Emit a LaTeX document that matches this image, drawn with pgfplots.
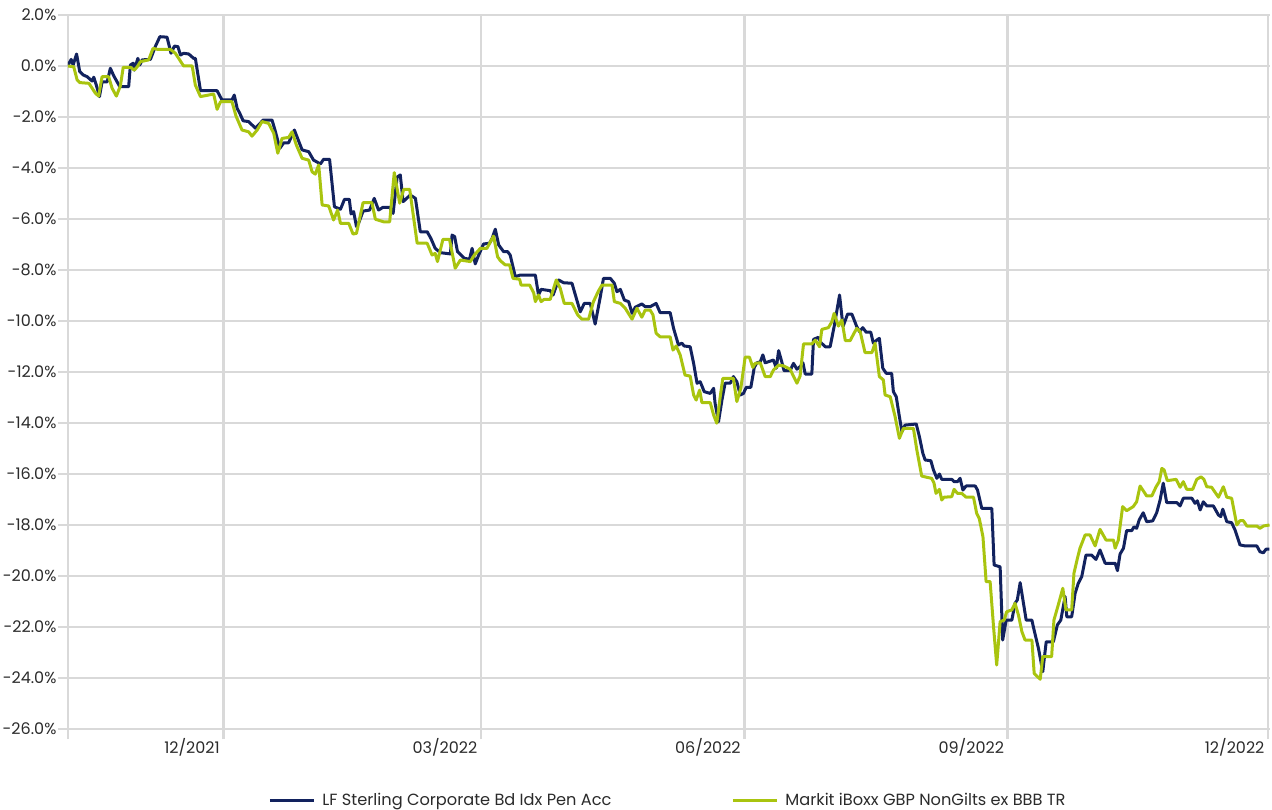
\documentclass[border=0pt]{standalone}
\usepackage{pgfplots}
\pgfplotsset{compat=1.18}
\usepackage{pgfplotstable}
\usepackage{fontspec}
\setmainfont{Poppins}

\definecolor{lfnavy}{HTML}{12225E}
\definecolor{ibgreen}{HTML}{A9C40F}
\definecolor{gridgray}{HTML}{D9D9D9}
\definecolor{labelgray}{HTML}{2B2B2B}

% x = days since 1 Dec 2021, y = cumulative return in %
\pgfplotstableread{
x y
-54.4 0.00
-53.2 0.26
-52.5 0.04
-51.3 0.47
-50.2 -0.22
-49.0 -0.35
-47.6 -0.42
-45.9 -0.59
-45.3 -0.44
-44.4 -0.75
-43.3 -1.20
-42.4 -0.62
-40.6 -0.62
-39.5 -0.09
-38.3 -0.39
-36.2 -0.81
-33.1 -0.81
-32.5 0.04
-31.5 0.11
-31.1 -0.16
-29.9 0.30
-29.2 0.04
-28.4 0.24
-25.5 0.26
-23.8 0.76
-22.2 1.15
-19.7 1.13
-18.3 0.50
-17.1 0.78
-15.9 0.76
-15.0 0.43
-13.9 0.50
-12.1 0.47
-10.4 0.30
-9.8 0.30
-8.0 -0.97
-2.2 -0.97
-0.5 -1.33
3.0 -1.33
3.8 -1.14
4.8 -1.66
5.7 -1.85
6.9 -2.15
8.8 -2.18
11.2 -2.44
12.3 -2.31
13.9 -2.12
17.0 -2.12
18.2 -2.58
19.7 -3.23
21.1 -3.01
22.8 -3.01
24.8 -2.51
27.5 -3.29
29.8 -3.36
31.5 -3.69
33.9 -3.84
35.0 -3.66
37.1 -3.66
38.8 -5.52
40.9 -5.62
42.3 -5.23
44.0 -5.23
44.6 -5.80
45.5 -5.71
46.5 -6.30
47.3 -6.15
48.8 -5.69
51.1 -5.65
52.7 -5.19
54.2 -5.65
55.8 -5.54
58.1 -5.54
59.3 -5.78
60.7 -4.36
61.8 -4.27
62.8 -5.32
65.3 -5.06
67.1 -5.19
68.8 -6.50
71.2 -6.50
72.5 -6.76
74.0 -7.15
75.8 -7.32
79.3 -7.37
79.9 -6.63
80.8 -6.69
81.8 -7.28
84.2 -7.54
86.0 -7.58
86.9 -7.15
88.0 -7.76
89.2 -7.41
90.9 -6.98
93.0 -6.95
93.9 -6.76
95.0 -6.40
96.2 -7.02
97.9 -7.28
99.3 -7.28
100.2 -7.41
102.0 -8.26
103.7 -8.20
109.0 -8.20
110.1 -8.98
111.0 -8.76
114.2 -8.81
115.2 -8.98
117.1 -8.39
118.9 -8.50
121.8 -8.52
123.5 -9.18
124.7 -9.64
126.1 -9.31
128.2 -9.31
129.9 -10.12
131.7 -9.05
132.8 -8.33
135.2 -8.33
136.6 -8.52
137.5 -8.85
138.7 -8.76
140.1 -9.18
141.6 -9.24
142.8 -9.70
143.9 -9.46
146.2 -9.33
147.4 -9.44
149.1 -9.44
151.2 -9.31
152.6 -9.67
156.1 -9.67
157.3 -10.29
159.0 -10.94
160.2 -10.87
161.0 -10.98
163.1 -11.01
164.3 -11.66
165.5 -12.44
166.6 -12.38
168.0 -12.77
170.1 -12.84
171.3 -12.64
171.8 -13.23
173.0 -13.95
174.2 -13.10
175.3 -12.44
177.1 -12.44
178.2 -12.18
179.4 -12.38
180.6 -12.90
181.7 -12.84
182.7 -12.60
184.3 -12.60
185.5 -11.82
186.4 -11.64
187.6 -11.60
188.5 -11.33
189.3 -11.64
192.2 -11.53
193.2 -11.85
194.0 -11.16
195.1 -11.60
195.9 -11.95
198.0 -11.95
199.2 -11.66
200.4 -11.89
201.5 -11.79
202.5 -11.64
203.3 -12.08
205.6 -12.08
206.2 -10.72
207.9 -10.64
208.8 -10.85
210.3 -11.01
212.0 -11.01
213.4 -10.22
215.3 -8.98
216.5 -10.22
218.1 -9.73
219.6 -9.73
221.3 -10.22
222.3 -10.42
223.4 -10.26
224.6 -10.44
226.2 -10.44
227.1 -10.87
228.3 -10.75
229.2 -10.68
230.4 -11.85
231.6 -12.05
233.5 -12.05
234.1 -12.77
235.1 -12.97
236.2 -13.75
237.1 -14.34
238.2 -14.08
242.1 -14.04
243.2 -14.54
244.4 -15.19
245.2 -15.45
247.2 -15.48
248.1 -15.84
249.3 -16.17
250.2 -16.00
251.0 -16.21
254.5 -16.21
255.3 -16.30
256.5 -16.30
257.4 -16.17
258.4 -16.63
259.5 -16.47
262.7 -16.47
263.5 -16.63
265.0 -17.35
268.5 -17.35
269.3 -19.57
271.4 -19.64
272.3 -22.51
273.5 -21.73
275.5 -21.73
276.6 -21.07
277.4 -20.94
278.4 -20.26
280.5 -21.73
282.5 -21.73
283.0 -21.99
284.8 -22.84
286.3 -23.75
287.5 -22.58
290.0 -22.58
291.4 -21.92
292.6 -21.73
294.1 -20.81
294.7 -21.60
296.4 -21.60
297.6 -20.68
298.7 -20.29
299.9 -20.03
301.4 -19.18
303.4 -19.18
304.9 -19.35
306.3 -18.98
308.1 -19.50
311.6 -19.50
312.4 -19.79
313.3 -19.14
314.5 -18.91
315.6 -18.22
317.4 -18.22
318.2 -18.07
319.1 -18.13
320.0 -17.80
321.4 -17.52
322.6 -17.87
324.7 -17.84
326.1 -17.52
327.3 -17.02
328.4 -16.36
329.6 -17.12
333.1 -17.12
334.3 -17.25
335.4 -16.95
338.4 -16.95
339.5 -17.15
340.3 -17.05
341.3 -17.41
342.4 -17.09
343.6 -17.25
345.9 -17.25
347.7 -17.61
348.5 -17.67
349.2 -17.38
350.6 -17.87
352.3 -17.91
353.5 -18.20
355.2 -18.78
357.0 -18.82
361.1 -18.82
362.2 -19.05
363.4 -19.09
364.3 -18.95
365.5 -18.95
}\lftable

\pgfplotstableread{
x y
-54.4 0.00
-52.3 -0.03
-51.1 -0.55
-50.2 -0.65
-47.0 -0.68
-44.7 -1.07
-43.6 -1.18
-42.4 -0.42
-40.1 -0.42
-38.9 -0.87
-37.4 -1.18
-36.0 -0.78
-35.0 -0.05
-32.5 -0.05
-31.1 -0.16
-30.1 -0.03
-29.0 0.17
-26.1 0.24
-24.6 0.69
-22.9 0.65
-18.5 0.65
-16.8 0.50
-13.9 0.00
-10.9 0.00
-9.8 -0.75
-8.0 -1.20
-3.4 -1.10
-2.2 -1.70
-1.0 -1.40
3.0 -1.40
4.4 -1.96
6.5 -2.51
8.8 -2.58
10.0 -2.75
11.8 -2.51
13.5 -2.18
15.8 -2.25
17.6 -2.64
19.0 -3.42
20.5 -2.84
22.8 -2.80
24.0 -2.58
25.5 -3.10
27.5 -3.62
29.8 -3.69
31.0 -4.15
32.1 -4.24
33.3 -3.88
34.5 -5.45
36.8 -5.49
38.5 -6.04
39.9 -5.65
40.9 -6.17
43.8 -6.17
45.3 -6.59
46.5 -6.56
48.8 -5.36
51.9 -5.36
53.1 -6.01
56.0 -6.11
58.1 -6.11
59.7 -4.18
61.6 -5.38
63.0 -4.84
65.1 -4.84
67.7 -6.95
71.2 -6.95
72.9 -7.41
74.0 -7.35
74.8 -7.67
76.7 -6.80
79.0 -6.80
81.0 -7.93
82.8 -7.61
86.3 -7.67
87.7 -7.41
89.8 -7.15
92.1 -7.15
93.3 -6.89
94.4 -6.67
95.8 -7.48
96.8 -7.64
98.5 -7.80
100.0 -7.80
101.2 -8.33
103.5 -8.36
104.0 -8.59
107.0 -8.59
108.4 -8.89
109.0 -9.24
110.1 -8.98
111.0 -9.24
112.1 -9.15
114.2 -9.15
116.3 -8.39
117.7 -8.72
119.1 -9.31
121.8 -9.31
123.8 -9.76
125.3 -9.93
127.6 -9.93
129.3 -9.24
131.1 -8.81
132.3 -8.59
135.8 -8.59
136.6 -9.24
138.7 -9.31
140.4 -9.50
142.8 -9.93
144.5 -9.50
146.2 -9.85
147.4 -9.57
149.1 -9.57
150.1 -9.76
151.2 -10.48
152.6 -10.62
156.1 -10.62
157.1 -11.14
158.2 -10.98
159.6 -11.33
161.3 -12.12
163.1 -12.16
164.3 -12.90
165.2 -13.10
166.4 -12.71
167.2 -13.20
170.1 -13.20
171.3 -13.69
172.4 -14.01
173.6 -12.97
174.5 -12.25
178.2 -12.25
179.4 -13.16
180.8 -12.64
182.3 -11.42
183.8 -11.42
185.0 -11.82
185.8 -11.66
187.6 -11.64
189.3 -12.18
191.1 -12.18
192.2 -11.92
194.0 -11.73
195.7 -11.76
198.0 -11.89
200.4 -12.44
201.5 -12.16
202.7 -10.90
205.6 -10.90
206.8 -10.75
208.3 -11.01
209.1 -10.33
211.4 -10.26
212.6 -10.03
213.4 -9.70
214.9 -10.20
216.1 -9.96
217.3 -10.77
219.0 -10.77
220.2 -10.51
221.3 -10.29
222.5 -10.42
224.2 -11.24
226.6 -11.24
227.7 -10.87
229.2 -12.18
230.6 -12.31
231.2 -12.90
233.0 -12.97
234.7 -13.75
236.2 -14.60
237.6 -14.21
241.1 -14.21
242.3 -15.06
244.0 -16.08
245.8 -16.13
247.5 -16.17
248.3 -16.36
249.0 -16.76
250.2 -16.60
251.0 -17.02
251.8 -16.91
254.5 -16.89
255.3 -16.60
256.5 -16.76
258.0 -16.76
259.5 -16.91
262.1 -16.91
263.2 -17.54
264.1 -17.74
265.4 -18.46
266.5 -20.22
267.9 -20.22
269.1 -21.99
270.2 -23.49
271.4 -21.79
272.8 -21.73
273.7 -21.40
275.5 -21.33
276.6 -21.07
277.8 -21.53
279.0 -22.18
280.1 -22.51
282.5 -22.51
283.3 -23.82
285.4 -24.05
286.3 -23.16
289.4 -23.16
290.2 -21.73
291.7 -21.14
293.3 -20.48
294.4 -21.33
296.4 -21.33
297.2 -19.89
298.4 -19.31
299.3 -18.91
301.1 -18.39
302.8 -18.39
304.6 -18.82
306.3 -18.17
308.4 -18.59
311.0 -18.59
311.6 -18.91
312.7 -18.59
314.2 -17.28
315.6 -17.44
317.9 -17.28
319.1 -17.09
320.3 -16.47
322.6 -16.86
324.4 -16.86
325.9 -16.50
327.0 -16.30
327.9 -15.78
328.7 -15.84
329.8 -16.26
332.9 -16.21
334.3 -16.52
335.4 -16.30
336.6 -16.60
338.7 -16.60
340.1 -16.21
341.6 -16.11
342.6 -16.21
343.6 -16.50
345.3 -16.52
347.7 -16.91
349.4 -16.50
350.6 -16.91
352.3 -16.95
354.1 -18.00
355.2 -17.83
356.4 -17.83
357.6 -18.04
361.1 -18.04
362.2 -18.13
363.4 -18.04
365.5 -18.00
}\ibtable

\begin{document}
\begin{tikzpicture}
\begin{axis}[
  name=ax,
  width=601pt, height=357pt,
  scale only axis,
  xmin=-54.3, xmax=365.7,
  ymin=-26, ymax=2,
  xtick={0,90,182,274,365},
  xticklabels={12/2021,03/2022,06/2022,09/2022,12/2022},
  extra x ticks={-54.3},
  extra x tick labels={},
  ytick={-26,-24,...,2},
  yticklabel={\pgfmathprintnumber[fixed,fixed zerofill,precision=1,assume math mode=true]{\tick}\%},
  axis lines*=left,
  axis line style={draw=gridgray, line width=1.4pt, -},
  x axis line style={-}, y axis line style={-},
  grid=major,
  major grid style={draw=gridgray, line width=1.4pt},
  tick align=outside,
  major tick length=5pt,
  tick style={draw=gridgray, line width=1.4pt},
  tick label style={font=\fontsize{8}{9}\selectfont, text=labelgray},
  yticklabel style={inner sep=0.6pt},
  xticklabel style={anchor=north east, inner sep=0.6pt, xshift=-1pt, yshift=1pt},
  legend columns=2,
  legend cell align=left,
  legend style={at={(0.5,-0.1),}, anchor=center, draw=none,
    font=\fontsize{8.1}{9}\selectfont, text=labelgray,
    /tikz/every odd column/.append style={column sep=1.5pt},
    /tikz/every even column/.append style={column sep=58pt}},
  legend image code/.code={\draw[#1] (0pt,0pt) -- (22pt,0pt);},
]
\addplot[lfnavy, line width=1.5pt, line join=round] table[x=x,y=y] {\lftable};
\addlegendentry{LF Sterling Corporate Bd Idx Pen Acc}
\addplot[ibgreen, line width=1.5pt, line join=round] table[x=x,y=y] {\ibtable};
\addlegendentry{Markit iBoxx GBP NonGilts ex BBB TR}
\end{axis}
\pgfresetboundingbox
\path[use as bounding box] ([xshift=-34pt,yshift=-40pt]ax.south west) rectangle ([xshift=1pt,yshift=7.5pt]ax.north east);
\end{tikzpicture}
\end{document}
